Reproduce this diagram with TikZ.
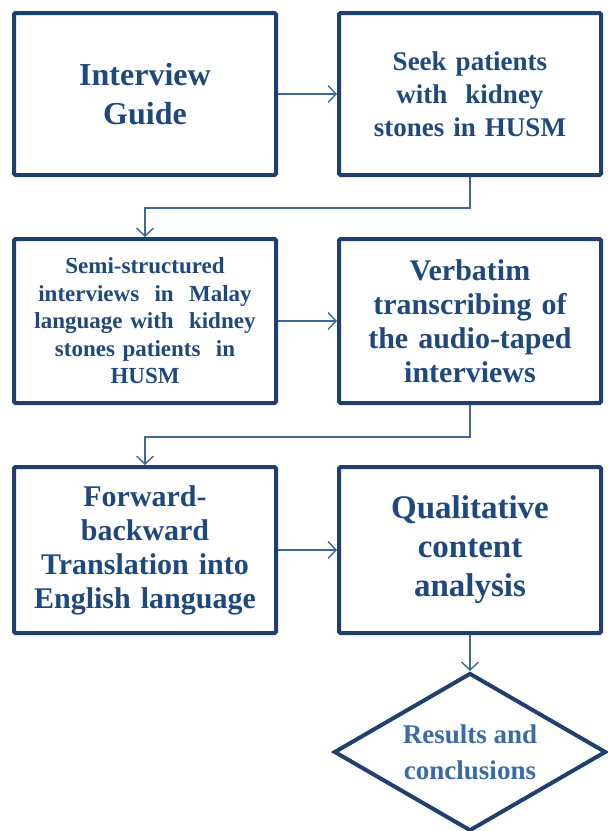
\documentclass[tikz,border=0pt]{standalone}
\usepackage{fontspec}
\setmainfont{Liberation Serif}
\usetikzlibrary{arrows.meta,shapes.geometric}
\definecolor{boxline}{HTML}{1F3F6E}
\definecolor{boxtext}{HTML}{1F497D}
\definecolor{connline}{HTML}{41679C}
\definecolor{dtext}{HTML}{3A6AA8}
\newcommand{\fsz}[2]{\bfseries\fontsize{#1}{#2}\selectfont}
\tikzset{
  stepbox/.style={draw=boxline, line width=4pt, rounded corners=1.5pt, fill=white,
    minimum width=262pt, minimum height=162pt, text width=250pt, align=center,
    text=boxtext, inner sep=0pt},
  conn/.style={draw=connline, line width=1.4pt,
    -{Straight Barb[length=8pt,width=17pt,line width=1.4pt]}},
  enddiamond/.style={diamond, draw=boxline, line width=4pt, fill=white,
    shape aspect=1.72, minimum width=272pt, minimum height=158pt, inner sep=0pt,
    align=center, text=dtext}
}
\begin{document}
\begin{tikzpicture}[x=1pt,y=-1pt]
\useasboundingbox (0,0) rectangle (608,831);
\node[stepbox, font=\fsz{32}{39}] (b1) at (145,94) {Interview\\Guide};
\node[stepbox, font=\fsz{27}{33}] (b2) at (470,94) {Seek patients\\with \ kidney\\stones in HUSM};
\node[stepbox, minimum height=164pt, font=\fsz{23}{27.5}] (b3) at (145,321) {Semi-structured\\interviews \ in \ Malay\\language with \ kidney\\stones patients \ in\\HUSM};
\node[stepbox, minimum height=164pt, font=\fsz{30}{34}] (b4) at (470,321) {Verbatim\\transcribing of\\the audio-taped\\interviews};
\node[stepbox, minimum height=166pt, font=\fsz{30}{34}] (b5) at (145,550) {Forward-\\backward\\Translation into\\English language};
\node[stepbox, minimum height=166pt, font=\fsz{33}{39}] (b6) at (470,550) {Qualitative\\content\\analysis};
\node[enddiamond, font=\fsz{27}{36}] (d) at (470,752) {Results and\\conclusions};
\coordinate (j1) at (0,208);
\coordinate (j2) at (0,437);
\draw[conn] (b1.east) -- (b2.west);
\draw[conn] (b3.east) -- (b4.west);
\draw[conn] (b5.east) -- (b6.west);
\draw[conn] (b2.south) -- (b2.south |- j1) -| (b3.north);
\draw[conn] (b4.south) -- (b4.south |- j2) -| (b5.north);
\draw[conn] (b6.south) -- (d.north);
\end{tikzpicture}
\end{document}
